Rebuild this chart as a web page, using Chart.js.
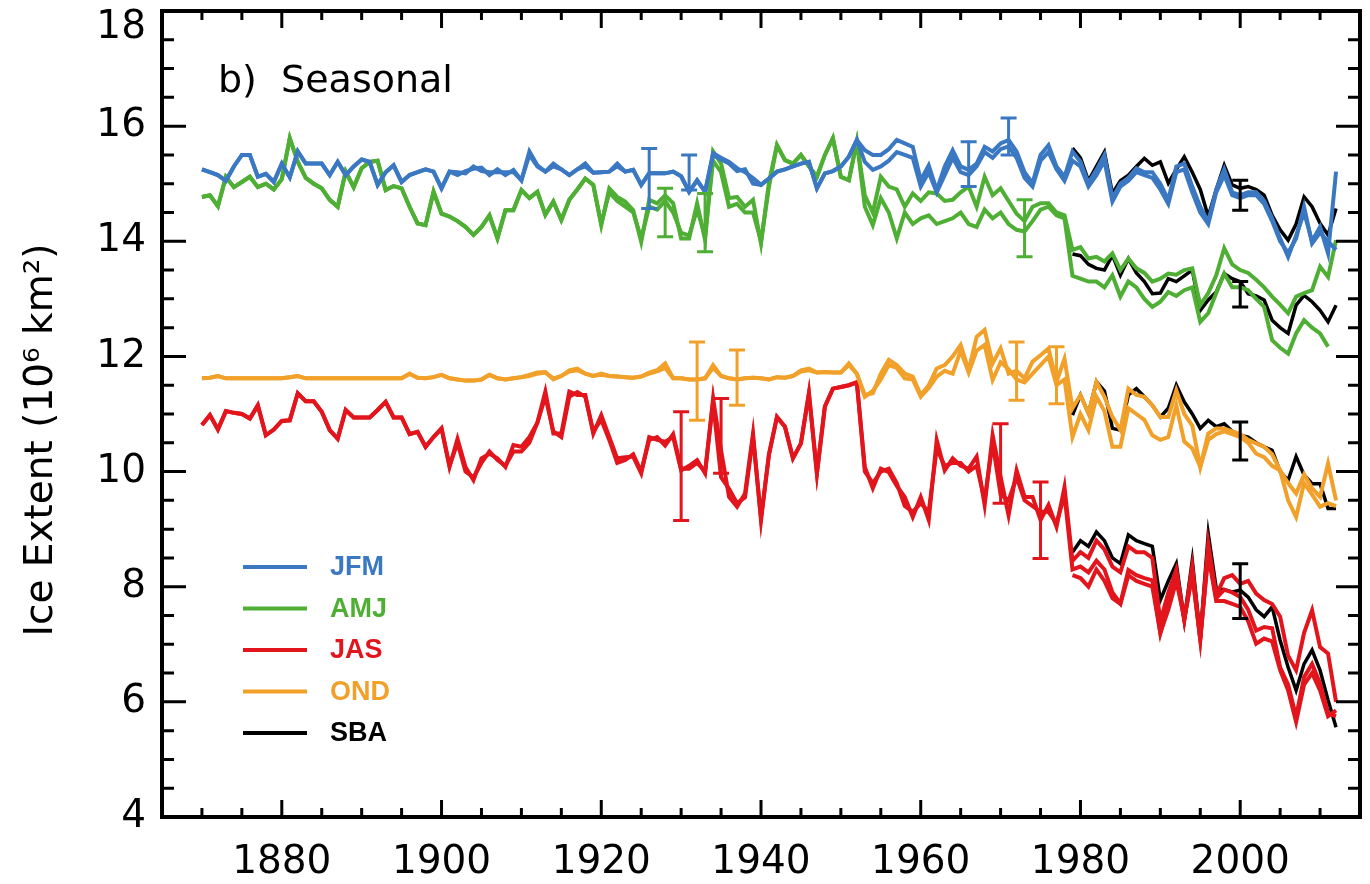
<!DOCTYPE html>
<html>
<head>
<meta charset="utf-8">
<script src="https://cdn.jsdelivr.net/npm/chart.js@4.4.1/dist/chart.umd.min.js"></script>
<style>
  html, body { margin: 0; padding: 0; background: #fff; }
  #wrap { width: 1370px; height: 884px; position: relative; }
</style>
</head>
<body>
<div id="wrap"><canvas id="chart"></canvas></div>
<script>
const FONT = "'DejaVu Sans', sans-serif";

const seasons = ["JFM", "AMJ", "JAS", "OND", "SBA"];
const seasonColors = {
  JFM: "#3b78c2",
  AMJ: "#4fae34",
  JAS: "#e2151d",
  OND: "#f1a12a",
  SBA: "#000000",
};

const xTicks = [1880, 1900, 1920, 1940, 1960, 1980, 2000];
const yTicks = [4, 6, 8, 10, 12, 14, 16, 18];

// full reconstructions 1870-2012
const firstYear = 1870;
// satellite-era (SBA) 1979-2012
const sbaFirstYear = 1979;

const jfmA = [
  15.25, 15.2, 15.15, 15.05, 15.3, 15.5, 15.5, 15.12, 15.17, 15.03,
  15.35, 15.11, 15.56, 15.35, 15.35, 15.35, 15.15, 15.38, 15.15, 15.3,
  15.42, 15.38, 14.98, 15.2, 15.32, 15.03, 15.15, 15.2, 15.25, 15.21,
  14.92, 15.21, 15.15, 15.22, 15.26, 15.28, 15.15, 15.25, 15.15, 15.24,
  15.06, 15.56, 15.32, 15.21, 15.35, 15.25, 15.15, 15.25, 15.35, 15.19,
  15.2, 15.21, 15.35, 15.21, 15.24, 14.98, 15.18, 15.18, 15.18, 15.21,
  15.13, 14.86, 15.06, 14.86, 15.53, 15.45, 15.38, 15.27, 15.2, 15.1,
  14.98, 15.09, 15.21, 15.25, 15.3, 15.35, 15.38, 14.92, 15.18, 15.22,
  15.3, 15.47, 15.76, 15.58, 15.5, 15.5, 15.6, 15.76, 15.7, 15.64,
  15.06, 15.32, 14.89, 15.3, 15.58, 15.3, 15.24, 15.35, 15.64, 15.56,
  15.7, 15.76, 15.56, 15.2, 15.01, 15.5, 15.67, 15.3, 15.12, 15.56,
  15.38, 15.01, 15.24, 15.5, 14.75, 15.0, 15.1, 15.27, 15.2, 15.2,
  15.0, 14.72, 15.3, 15.35, 14.95, 14.6, 14.34, 14.9, 15.25, 14.85,
  14.8, 14.85, 14.85, 14.7, 14.4, 14.05, 13.73, 14.1, 14.5, 14.0,
  14.25, 13.79, 15.21,
];
const jfmB = [
  15.25, 15.2, 15.15, 15.05, 15.3, 15.5, 15.5, 15.12, 15.17, 15.03,
  15.35, 15.11, 15.56, 15.35, 15.35, 15.35, 15.15, 15.38, 15.15, 15.3,
  15.42, 15.38, 14.98, 15.2, 15.32, 15.03, 15.15, 15.2, 15.25, 15.21,
  14.92, 15.21, 15.2, 15.18, 15.3, 15.22, 15.2, 15.2, 15.2, 15.2,
  15.06, 15.5, 15.3, 15.21, 15.3, 15.25, 15.15, 15.25, 15.3, 15.19,
  15.2, 15.21, 15.3, 15.21, 15.24, 14.98, 15.18, 15.18, 15.18, 15.21,
  15.13, 14.86, 15.06, 14.86, 15.5, 15.42, 15.35, 15.22, 15.25, 15.0,
  14.98, 15.09, 15.21, 15.25, 15.3, 15.35, 15.38, 14.92, 15.18, 15.22,
  15.3, 15.47, 15.76, 15.38, 15.24, 15.3, 15.4, 15.55, 15.5, 15.45,
  14.95, 15.2, 14.85, 15.15, 15.45, 15.2, 15.15, 15.3, 15.55, 15.45,
  15.6, 15.65, 15.45, 15.1, 14.95, 15.4, 15.55, 15.25, 15.05, 15.4,
  15.3, 14.95, 15.15, 15.4, 14.69, 14.95, 15.05, 15.2, 15.15, 15.1,
  14.9, 14.65, 15.2, 15.25, 14.85, 14.5, 14.3, 14.85, 15.15, 14.8,
  14.75, 14.8, 14.8, 14.65, 14.35, 14.0, 13.8, 14.05, 14.6, 13.96,
  14.15, 14.0, 13.85,
];
const amjA = [
  14.77, 14.8, 14.61, 15.12, 14.94, 15.03, 15.12, 14.94, 15.0, 14.9,
  15.08, 15.79, 15.38, 15.1, 15.0, 14.92, 14.72, 14.6, 15.21, 14.94,
  15.27, 15.38, 15.4, 14.89, 14.96, 14.92, 14.6, 14.31, 14.28, 14.86,
  14.48, 14.43, 14.35, 14.25, 14.11, 14.25, 14.45, 14.05, 14.54, 14.54,
  14.89, 14.75, 14.86, 14.46, 14.69, 14.37, 14.72, 14.9, 15.09, 14.98,
  14.28, 14.92, 14.77, 14.69, 14.54, 13.99, 14.72, 14.66, 14.8, 14.66,
  14.05, 14.05, 14.66, 14.02, 15.56, 15.35, 14.75, 14.77, 14.6, 14.72,
  13.96, 15.03, 15.67, 15.41, 15.35, 15.5, 15.3, 15.12, 15.5, 15.79,
  15.12, 15.06, 15.73, 14.8, 14.5, 15.12, 14.95, 14.9, 14.6, 14.83,
  14.7, 14.85, 14.83, 14.7, 14.72, 14.85, 14.95, 14.6, 15.12, 14.8,
  14.92, 14.7, 14.48, 14.35, 14.6, 14.66, 14.66, 14.5, 14.45, 13.85,
  13.9, 13.7, 13.73, 13.65, 13.79, 13.5, 13.7, 13.53, 13.45, 13.3,
  13.35, 13.44, 13.42, 13.5, 13.53, 12.89, 13.1, 13.41, 13.88, 13.6,
  13.5, 13.45, 13.33, 13.2, 13.04, 12.9, 12.75, 13.04, 13.1, 13.15,
  13.56, 13.38, 14.02,
];
const amjB = [
  14.77, 14.8, 14.61, 15.12, 14.94, 15.03, 15.12, 14.94, 15.0, 14.9,
  15.08, 15.79, 15.38, 15.1, 15.0, 14.92, 14.72, 14.6, 15.21, 14.94,
  15.27, 15.38, 15.4, 14.89, 14.96, 14.92, 14.6, 14.31, 14.28, 14.86,
  14.48, 14.43, 14.35, 14.25, 14.11, 14.25, 14.45, 14.05, 14.54, 14.54,
  14.89, 14.75, 14.86, 14.46, 14.69, 14.37, 14.72, 14.9, 15.09, 14.98,
  14.3, 14.85, 14.7, 14.6, 14.5, 14.05, 14.6, 14.55, 14.7, 14.5,
  14.15, 14.1, 14.55, 14.1, 15.4, 15.2, 14.6, 14.65, 14.5, 14.5,
  14.0, 14.95, 15.67, 15.41, 15.35, 15.5, 15.3, 15.12, 15.5, 15.79,
  15.12, 15.06, 15.73, 14.6, 14.28, 14.75, 14.5, 14.05, 14.5, 14.3,
  14.4, 14.45, 14.3, 14.35, 14.4, 14.5, 14.3, 14.25, 14.55, 14.4,
  14.5, 14.3, 14.2, 14.17, 14.35, 14.55, 14.6, 14.45, 14.4, 13.4,
  13.35, 13.3, 13.3, 13.2, 13.41, 13.04, 13.3, 13.2, 13.0, 12.86,
  12.95, 13.12, 13.05, 13.15, 13.2, 12.6, 12.75, 13.1, 13.44, 13.2,
  13.2, 13.15, 13.0, 12.86, 12.28, 12.15, 12.05, 12.4, 12.63, 12.5,
  12.4, 12.17, null,
];
const jasA = [
  10.81, 10.98, 10.73, 11.05, 11.02, 11.0, 10.92, 11.15, 10.63, 10.73,
  10.88, 10.89, 11.36, 11.22, 11.22, 11.04, 10.72, 10.57, 11.07, 10.94,
  10.94, 10.94, 11.07, 11.21, 10.94, 10.94, 10.65, 10.69, 10.43, 10.6,
  10.75, 10.08, 10.57, 10.08, 9.85, 10.23, 10.31, 10.23, 10.08, 10.46,
  10.43, 10.6, 10.85, 11.39, 10.66, 10.66, 11.39, 11.33, 11.33, 10.66,
  10.98, 10.6, 10.23, 10.25, 10.26, 9.97, 10.6, 10.55, 10.52, 10.6,
  10.02, 10.1, 10.2, 9.97, 11.27, 10.37, 9.56, 9.39, 9.62, 10.66,
  9.15, 10.3, 10.95, 10.78, 10.23, 10.49, 11.36, 9.97, 11.13, 11.44,
  11.47, 11.5, 11.55, 10.08, 9.71, 10.05, 9.99, 9.75, 9.56, 9.21,
  9.56, 9.16, 10.55, 10.02, 10.23, 10.1, 10.05, 10.26, 9.42, 10.63,
  9.91, 9.24, 10.02, 9.56, 9.56, 9.16, 9.42, 9.04, 9.73, 8.45,
  8.6, 8.5, 8.8, 8.65, 8.35, 8.25, 8.7, 8.6, 8.6, 8.5,
  7.4, 7.9, 8.3, 7.42, 8.35, 7.1, 8.75, 7.85, 8.15, 8.2,
  8.05, 8.1, 7.88, 7.77, 7.7, 7.48, 6.8, 6.55, 7.2, 7.59,
  6.95, 6.84, 6.0,
];
const jasB = [
  10.81, 10.98, 10.73, 11.05, 11.02, 11.0, 10.92, 11.15, 10.63, 10.73,
  10.88, 10.89, 11.36, 11.22, 11.22, 11.04, 10.72, 10.57, 11.07, 10.94,
  10.94, 10.94, 11.07, 11.21, 10.94, 10.94, 10.65, 10.69, 10.43, 10.6,
  10.75, 10.1, 10.5, 10.0, 9.9, 10.15, 10.35, 10.2, 10.1, 10.35,
  10.35, 10.5, 10.85, 11.3, 10.7, 10.6, 11.3, 11.38, 11.3, 10.7,
  10.9, 10.55, 10.15, 10.2, 10.3, 10.0, 10.55, 10.6, 10.45, 10.65,
  10.05, 10.05, 10.15, 10.0, 11.2, 9.9, 9.7, 9.45, 9.55, 10.6,
  9.2, 10.3, 10.95, 10.78, 10.23, 10.49, 11.36, 9.97, 11.13, 11.44,
  11.47, 11.5, 11.55, 10.0, 9.8, 10.0, 10.05, 9.8, 9.4, 9.3,
  9.45, 9.3, 10.4, 10.1, 10.15, 10.15, 10.0, 10.1, 9.5, 10.5,
  9.6, 9.5, 9.9, 9.5, 9.4, 9.3, 9.3, 9.1, 9.6, 8.3,
  8.35, 8.25, 8.45, 8.3, 7.9, 7.71, 8.29, 8.2, 8.15, 8.11,
  7.19, 7.7, 8.2, 7.42, 8.25, 7.07, 8.6, 7.8, 7.95, 7.9,
  7.82, 7.6, 7.24, 7.3, 7.28, 6.6, 6.3, 5.74, 6.43, 6.66,
  6.32, 5.8, 5.75,
];
const ondA = [
  11.62, 11.63, 11.66, 11.62, 11.62, 11.62, 11.62, 11.62, 11.62, 11.62,
  11.62, 11.64, 11.66, 11.62, 11.62, 11.62, 11.62, 11.62, 11.62, 11.62,
  11.62, 11.62, 11.62, 11.62, 11.62, 11.62, 11.7, 11.63, 11.62, 11.64,
  11.68, 11.62, 11.6, 11.58, 11.58, 11.6, 11.68, 11.62, 11.6, 11.62,
  11.64, 11.68, 11.72, 11.73, 11.6, 11.66, 11.76, 11.79, 11.7, 11.66,
  11.7, 11.66, 11.65, 11.64, 11.63, 11.65, 11.72, 11.76, 11.88, 11.62,
  11.62, 11.6, 11.6, 11.62, 11.85, 11.66, 11.62, 11.6, 11.62, 11.63,
  11.62, 11.6, 11.64, 11.63, 11.66, 11.76, 11.79, 11.72, 11.73, 11.72,
  11.72, 11.88, 11.7, 11.33, 11.36, 11.7, 11.94, 11.85, 11.7, 11.65,
  11.33, 11.5, 11.79, 11.85, 12.0, 12.2, 11.76, 12.34, 12.46, 11.88,
  12.14, 11.7, 11.75, 11.62, 11.91, 12.02, 12.14, 11.56, 11.96, 11.1,
  11.33, 11.01, 11.56, 11.3, 10.95, 10.72, 11.44, 11.33, 11.3, 11.15,
  10.95, 10.95, 11.41, 11.0, 10.8, 10.08, 10.66, 10.75, 10.75, 10.7,
  10.65, 10.55, 10.49, 10.43, 10.3, 10.02, 9.8, 9.62, 9.95, 9.71,
  9.56, 10.14, 9.5,
];
const ondB = [
  11.62, 11.63, 11.66, 11.62, 11.62, 11.62, 11.62, 11.62, 11.62, 11.62,
  11.62, 11.64, 11.66, 11.62, 11.62, 11.62, 11.62, 11.62, 11.62, 11.62,
  11.62, 11.62, 11.62, 11.62, 11.62, 11.62, 11.7, 11.63, 11.62, 11.64,
  11.68, 11.62, 11.6, 11.58, 11.58, 11.6, 11.68, 11.62, 11.6, 11.62,
  11.64, 11.66, 11.7, 11.72, 11.62, 11.66, 11.74, 11.76, 11.7, 11.66,
  11.68, 11.66, 11.65, 11.64, 11.63, 11.65, 11.7, 11.74, 11.8, 11.62,
  11.62, 11.6, 11.6, 11.62, 11.8, 11.66, 11.62, 11.6, 11.62, 11.63,
  11.62, 11.6, 11.64, 11.63, 11.66, 11.74, 11.76, 11.72, 11.73, 11.72,
  11.72, 11.85, 11.7, 11.3, 11.4, 11.6, 11.85, 11.8, 11.62, 11.6,
  11.3, 11.45, 11.65, 11.75, 11.7, 12.1, 11.72, 12.1, 12.2, 11.59,
  11.9, 11.78, 11.6, 11.55, 11.7, 11.85, 12.0, 11.5, 11.6, 10.6,
  11.0, 10.72, 11.3, 11.05, 10.43, 10.43, 11.1, 11.0, 10.9, 10.63,
  10.55, 10.6, 11.15, 10.52, 10.4, 10.08, 10.55, 10.65, 10.7, 10.65,
  10.6, 10.5, 10.31, 10.25, 10.1, 10.02, 9.5, 9.21, 9.8, 9.6,
  9.39, 9.45, 9.4,
];

// extra JAS reconstruction over the satellite era
const jasC = [
  8.2, 8.15, 8.0, 8.3, 8.1, 7.8, 7.7, 8.2, 8.1, 8.05,
  8.0, 7.2, 7.6, 8.1, 7.45, 8.2, 7.1, 8.55, 7.75, 7.75,
  7.7, 7.65, 7.4, 7.01, 7.1, 7.05, 6.55, 6.2, 5.65, 6.3,
  6.5, 6.2, 5.75, 5.85,
];
const sbaJfm = [
  15.62, 15.45, 15.05, 15.3, 15.55, 14.83, 15.05, 15.15, 15.3, 15.44,
  15.32, 15.38, 15.01, 15.25, 15.47, 15.2, 14.9, 14.43, 14.9, 15.32,
  14.98, 14.92, 14.95, 14.9, 14.8, 14.45, 14.2, 14.02, 14.3, 14.77,
  14.6, 14.31, 14.11, 14.57,
];
const sbaAmj = [
  13.78, 13.75, 13.6, 13.53, 13.5, 13.76, 13.41, 13.7, 13.45, 13.3,
  13.09, 13.1, 13.35, 13.3, 13.4, 13.5, 12.8, 12.98, 13.12, 13.44,
  13.35, 13.3, 13.09, 13.05, 12.98, 12.63, 12.5, 12.4, 12.89, 13.06,
  12.95, 12.8, 12.6, 12.89,
];
const sbaJas = [
  8.6, 8.8, 8.7, 8.95, 8.8, 8.5, 8.4, 8.9, 8.8, 8.75,
  8.7, 7.77, 8.1, 8.4, 7.42, 8.46, 7.13, 8.92, 7.97, 7.95,
  7.91, 7.94, 7.82, 7.6, 7.48, 7.65, 7.07, 6.6, 6.2, 6.66,
  6.9, 6.55, 6.03, 5.56,
];
const sbaOnd = [
  10.98, 11.33, 11.01, 11.56, 11.4, 10.75, 10.72, 11.33, 11.44, 11.3,
  11.15, 10.95, 11.1, 11.5, 11.21, 11.0, 10.75, 10.89, 10.78, 10.83,
  10.7, 10.63, 10.6, 10.5, 10.43, 10.37, 10.0, 9.85, 10.26, 9.94,
  9.79, 9.79, 9.36, 9.36,
];

// error bars: year, low, high, season colour
const errYears = [1926, 1931, 1966, 1971, 1928, 1933, 1973, 1930, 1935, 1970, 1975, 1932, 1937, 1972, 1977, 2000, 2000, 2000, 2000];
const errLow = [14.57, 14.89, 14.95, 15.5, 14.08, 13.82, 13.73, 9.15, 9.97, 9.45, 8.49, 10.89, 11.15, 11.24, 11.18, 14.54, 12.86, 10.2, 7.45];
const errHigh = [15.61, 15.5, 15.73, 16.14, 14.92, 14.83, 14.72, 11.04, 11.27, 10.83, 9.82, 12.25, 12.11, 12.25, 12.17, 15.06, 13.3, 10.86, 8.4];
const errSeason = ["JFM", "JFM", "JFM", "JFM", "AMJ", "AMJ", "AMJ", "JAS", "JAS", "JAS", "JAS", "OND", "OND", "OND", "OND", "SBA", "SBA", "SBA", "SBA"];

function toPoints(values, startYear) {
  return values.map((v, i) => ({ x: startYear + i, y: v }));
}

function lineSet(label, values, startYear, season, width) {
  return {
    label,
    data: toPoints(values, startYear),
    borderColor: seasonColors[season],
    borderWidth: width,
    pointRadius: 0,
    tension: 0,
    fill: false,
    spanGaps: false,
  };
}

const datasets = [
  lineSet("JFM a", jfmA, firstYear, "JFM", 4),
  lineSet("JFM b", jfmB, firstYear, "JFM", 4),
  lineSet("AMJ a", amjA, firstYear, "AMJ", 4),
  lineSet("AMJ b", amjB, firstYear, "AMJ", 4),
  lineSet("OND a", ondA, firstYear, "OND", 4),
  lineSet("OND b", ondB, firstYear, "OND", 4),
  lineSet("JAS a", jasA, firstYear, "JAS", 4),
  lineSet("JAS b", jasB, firstYear, "JAS", 4),
  lineSet("JAS c", jasC, sbaFirstYear, "JAS", 4),
  lineSet("SBA JFM", sbaJfm, sbaFirstYear, "SBA", 3.5),
  lineSet("SBA AMJ", sbaAmj, sbaFirstYear, "SBA", 3.5),
  lineSet("SBA JAS", sbaJas, sbaFirstYear, "SBA", 3.5),
  lineSet("SBA OND", sbaOnd, sbaFirstYear, "SBA", 3.5),
];

// frame with inward ticks on all four sides, error bars, labels, legend
const framePlugin = {
  id: "frame",
  afterDatasetsDraw(chart) {
    const { ctx, chartArea: a, scales: { x, y } } = chart;
    ctx.save();
    ctx.lineCap = "butt";

    ctx.lineWidth = 3;
    errYears.forEach((yr, i) => {
      const px = x.getPixelForValue(yr);
      const lo = y.getPixelForValue(errLow[i]);
      const hi = y.getPixelForValue(errHigh[i]);
      ctx.strokeStyle = seasonColors[errSeason[i]];
      ctx.beginPath();
      ctx.moveTo(px, lo);
      ctx.lineTo(px, hi);
      ctx.moveTo(px - 8, lo);
      ctx.lineTo(px + 8, lo);
      ctx.moveTo(px - 8, hi);
      ctx.lineTo(px + 8, hi);
      ctx.stroke();
    });

    ctx.strokeStyle = "#000";
    ctx.lineWidth = 3;
    for (let v = 1870; v <= 2010; v += 5) {
      const px = x.getPixelForValue(v);
      const len = v % 20 === 0 ? 17 : 9;
      ctx.beginPath();
      ctx.moveTo(px, a.bottom);
      ctx.lineTo(px, a.bottom - len);
      ctx.moveTo(px, a.top);
      ctx.lineTo(px, a.top + len);
      ctx.stroke();
    }
    for (let v = 4.5; v < 18; v += 0.5) {
      const py = y.getPixelForValue(v);
      const len = v % 2 === 0 ? 24 : 12;
      ctx.beginPath();
      ctx.moveTo(a.left, py);
      ctx.lineTo(a.left + len, py);
      ctx.moveTo(a.right, py);
      ctx.lineTo(a.right - len, py);
      ctx.stroke();
    }
    ctx.lineWidth = 4;
    ctx.strokeRect(a.left, a.top, a.right - a.left, a.bottom - a.top);

    ctx.fillStyle = "#000";
    ctx.textBaseline = "middle";

    // top tick label kept inside the picture
    const top = yTicks[yTicks.length - 1];
    ctx.font = `39px ${FONT}`;
    ctx.textAlign = "right";
    ctx.fillText(String(top), a.left - 16, Math.max(y.getPixelForValue(top), 28));

    // y axis title
    ctx.save();
    ctx.translate(42, 440);
    ctx.rotate(-Math.PI / 2);
    ctx.textAlign = "center";
    ctx.font = `39px ${FONT}`;
    ctx.fillText("Ice Extent (10\u2076 km\u00b2)", 0, 0);
    ctx.restore();

    ctx.textAlign = "left";
    ctx.font = `38px ${FONT}`;
    ctx.fillText("b)  Seasonal", 218, 82);

    ctx.font = `bold 27px 'Liberation Sans', Arial, sans-serif`;
    seasons.forEach((s, i) => {
      const ly = 567 + i * 41.5;
      ctx.strokeStyle = seasonColors[s];
      ctx.lineWidth = 4;
      ctx.beginPath();
      ctx.moveTo(243, ly);
      ctx.lineTo(307, ly);
      ctx.stroke();
      ctx.fillStyle = seasonColors[s];
      ctx.fillText(s, 330, ly + 1);
    });
    ctx.restore();
  },
};

new Chart(document.getElementById("chart"), {
  type: "line",
  data: { datasets },
  options: {
    responsive: true,
    maintainAspectRatio: false,
    animation: false,
    layout: { padding: { top: 11, right: 10, left: 0, bottom: 0 } },
    plugins: {
      legend: { display: false },
      tooltip: { enabled: false },
    },
    scales: {
      x: {
        type: "linear",
        min: 1865,
        max: 2015,
        afterBuildTicks: (scale) => {
          scale.ticks = xTicks.map((v) => ({ value: v }));
        },
        afterFit: (scale) => {
          scale.height = 67;
          scale.paddingLeft = 0;
          scale.paddingRight = 0;
        },
        grid: { display: false, drawTicks: false },
        border: { display: false },
        ticks: {
          color: "#000",
          padding: 22,
          maxRotation: 0,
          font: { family: FONT, size: 39 },
          callback: (v) => String(v),
        },
      },
      y: {
        type: "linear",
        min: 4,
        max: 18,
        afterBuildTicks: (scale) => {
          scale.ticks = yTicks.map((v) => ({ value: v }));
        },
        afterFit: (scale) => {
          scale.width = 162;
          scale.paddingTop = 0;
          scale.paddingBottom = 0;
        },
        grid: { display: false, drawTicks: false },
        border: { display: false },
        ticks: {
          color: "#000",
          padding: 16,
          font: { family: FONT, size: 39 },
          // the top label is drawn by the frame plugin so it is not clipped
          callback: (v) => (v === yTicks[yTicks.length - 1] ? "" : String(v)),
        },
      },
    },
  },
  plugins: [framePlugin],
});
</script>
</body>
</html>
